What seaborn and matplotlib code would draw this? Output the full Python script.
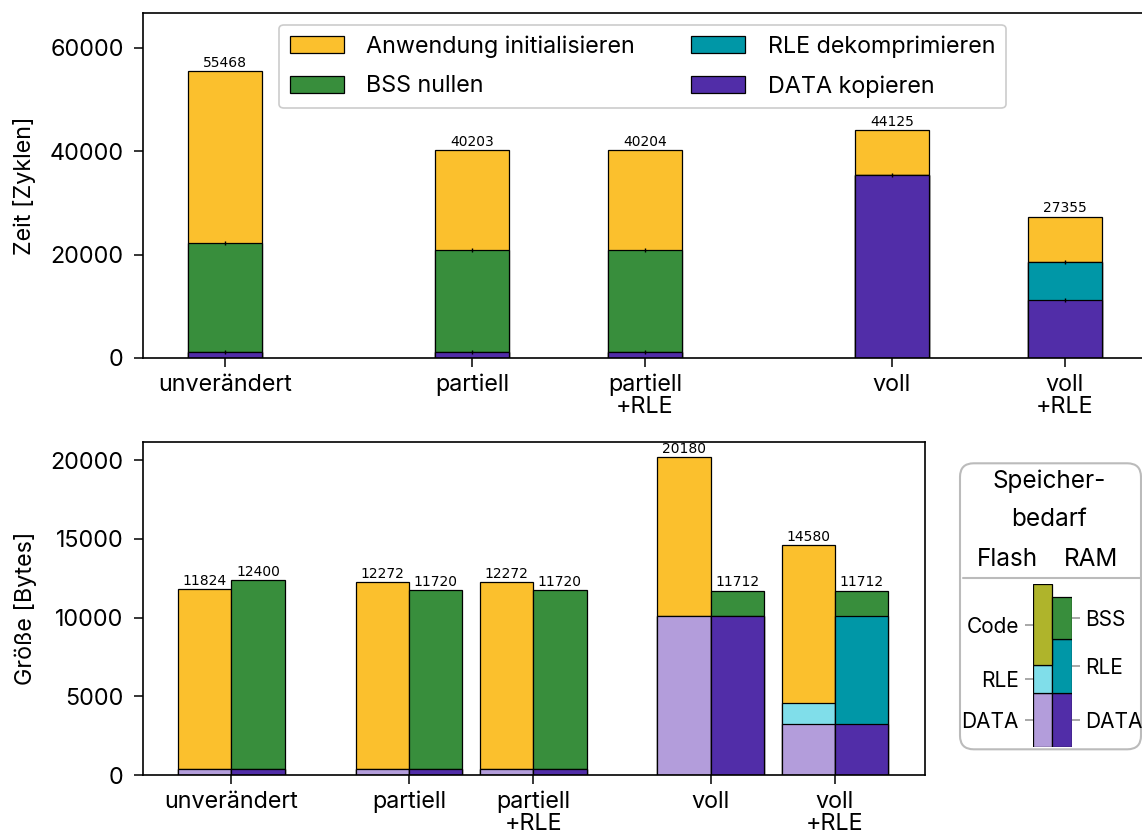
import matplotlib
matplotlib.use("Agg")
import numpy as np
import matplotlib.pyplot as plt
import seaborn as sns
from matplotlib.patches import Patch, FancyBboxPatch
from matplotlib.lines import Line2D

# ---------------- data ----------------
tick_labels = ["unverändert", "partiell", "partiell\n+RLE", "voll", "voll\n+RLE"]
positions = [0.0, 1.43, 2.43, 3.86, 4.86]

# Zeit [Zyklen] – segments from bottom to top
zeit_data = [1150, 1150, 1150, 35400, 11200]      # DATA kopieren
zeit_rle = [0, 0, 0, 0, 7430]                      # RLE dekomprimieren
zeit_bss = [21100, 19750, 19750, 0, 0]             # BSS nullen
zeit_init = [33218, 19303, 19304, 8725, 8725]      # Anwendung initialisieren
zeit_err_data = [350, 350, 350, 350, 350]
zeit_err_rle = [0, 0, 0, 0, 350]
zeit_err_bss = [350, 350, 350, 0, 0]

# Größe [Bytes] – Flash
flash_data = [380, 380, 380, 10120, 3260]
flash_rle = [0, 0, 0, 0, 1290]
flash_code = [11444, 11892, 11892, 10060, 10030]
# Größe [Bytes] – RAM
ram_data = [380, 380, 380, 10120, 3260]
ram_rle = [0, 0, 0, 0, 6860]
ram_bss = [12020, 11340, 11340, 1592, 1592]

legend_labels = ["Anwendung initialisieren", "BSS nullen", "RLE dekomprimieren", "DATA kopieren"]

# mini legend illustration (arbitrary units)
leg_flash = [54.3, 27.7, 81.3]       # DATA, RLE, Code
leg_flash_labels = ["DATA", "RLE", "Code"]
leg_ram = [54.3, 54.0, 41.7]         # DATA, RLE, BSS
leg_ram_labels = ["DATA", "RLE", "BSS"]

# ---------------- style ----------------
C_INIT = "#FBC02D"
C_BSS = "#388E3C"
C_RLE = "#0097A7"
C_DATA = "#512DA8"
C_DATA_FL = "#B39DDB"
C_RLE_FL = "#80DEEA"
C_CODE_LEG = "#AFB42B"

FS = 16.8
FS_MINI = 15
sns.set_theme(style="ticks", rc={
    "axes.edgecolor": "black", "axes.linewidth": 1.2,
    "text.color": "black", "axes.labelcolor": "black",
    "xtick.color": "black", "ytick.color": "black",
    "xtick.major.size": 6.5, "ytick.major.size": 6.5,
    "xtick.major.width": 1.1, "ytick.major.width": 1.1,
    "xtick.major.pad": 5, "ytick.major.pad": 7,
    "font.size": FS, "xtick.labelsize": FS, "ytick.labelsize": FS,
    "axes.labelsize": FS, "legend.fontsize": FS,
})
plt.rcParams["font.family"] = ["Inter", "DejaVu Sans"]

W, H = 1142, 839
fig = plt.figure(figsize=(W / 100, H / 100), dpi=100)


def fx(px):
    return px / W


def fy(py):
    return 1 - py / H


BW = 0.43


def stacked(ax, x, layers, colors):
    cum = np.cumsum(np.array(layers, dtype=float), axis=0)
    for i in range(len(layers) - 1, -1, -1):
        sns.barplot(x=list(x), y=list(cum[i]), native_scale=True, orient="x",
                    width=BW, color=colors[i], saturation=1, errorbar=None,
                    edgecolor="black", linewidth=0.9, ax=ax)
    return cum


def annotate(ax, x, tops):
    for xi, t in zip(x, tops):
        ax.annotate(f"{t:.0f}", (xi, t), xytext=(0, 0.8), textcoords="offset points",
                    ha="center", va="bottom", fontsize=10, family="DejaVu Sans")


# ---------------- top: Zeit ----------------
ax1 = fig.add_axes([fx(142.5), fy(358), 1 - fx(142.5), fy(12.7) - fy(358)])
cum1 = stacked(ax1, positions, [zeit_data, zeit_rle, zeit_bss, zeit_init],
               [C_DATA, C_RLE, C_BSS, C_INIT])
for lvl, err in zip(cum1[:3], [zeit_err_data, zeit_err_rle, zeit_err_bss]):
    e = np.array(err, dtype=float)
    m = e > 0
    ax1.errorbar(np.array(positions)[m], lvl[m], yerr=e[m], fmt="none",
                 ecolor="black", elinewidth=1.0, capsize=0)
annotate(ax1, positions, cum1[-1])
ax1.set_xlim(-0.4774, 5.307)
ax1.set_ylim(0, 66800)
ax1.set_yticks([0, 20000, 40000, 60000])
ax1.set_xticks(positions)
ax1.set_xticklabels(tick_labels, linespacing=1.0)
ax1.set_ylabel("Zeit [Zyklen]", labelpad=10)
ax1.spines["right"].set_visible(False)

handles = [Patch(facecolor=c, edgecolor="black", linewidth=0.9)
           for c in [C_INIT, C_BSS, C_RLE, C_DATA]]
leg = fig.legend(handles, legend_labels, ncol=2, loc="upper left",
                 bbox_to_anchor=(fx(279), fy(24.7)), bbox_transform=fig.transFigure,
                 borderaxespad=0, frameon=True, fancybox=True,
                 handlelength=2.32, handleheight=0.76, handletextpad=0.97,
                 labelspacing=0.76, columnspacing=2.4, borderpad=0.45)
leg.get_frame().set_edgecolor("#cccccc")
leg.get_frame().set_linewidth(1.2)
leg.get_frame().set_alpha(1)

# ---------------- bottom: Größe ----------------
ax2 = fig.add_axes([fx(142.5), fy(775), fx(925) - fx(142.5), fy(442) - fy(775)])
x_flash = [p - BW / 2 for p in positions]
x_ram = [p + BW / 2 for p in positions]
cum_f = stacked(ax2, x_flash, [flash_data, flash_rle, flash_code],
                [C_DATA_FL, C_RLE_FL, C_INIT])
cum_r = stacked(ax2, x_ram, [ram_data, ram_rle, ram_bss],
                [C_DATA, C_RLE, C_BSS])
annotate(ax2, x_flash, cum_f[-1])
annotate(ax2, x_ram, cum_r[-1])
ax2.set_xlim(-0.715, 5.585)
ax2.set_ylim(0, 21150)
ax2.set_yticks([0, 5000, 10000, 15000, 20000])
ax2.set_xticks(positions)
ax2.set_xticklabels(tick_labels, linespacing=1.0)
ax2.set_ylabel("Größe [Bytes]", labelpad=10)

# ---------------- mini legend "Speicherbedarf" ----------------
box = FancyBboxPatch((fx(960), fy(749.3)), fx(1141) - fx(960), fy(463.3) - fy(749.3),
                     boxstyle="round,pad=0,rounding_size=0.012", transform=fig.transFigure,
                     facecolor="white", edgecolor="#bbbbbb", linewidth=1.5,
                     mutation_aspect=W / H, zorder=-5)
fig.patches.append(box)
fig.text(fx(1049), fy(481.7), "Speicher-", ha="center", va="center", fontsize=17.5)
fig.text(fx(1049), fy(519), "bedarf", ha="center", va="center", fontsize=17.5)
fig.text(fx(1007), fy(560), "Flash", ha="center", va="center", fontsize=17.5)
fig.text(fx(1091), fy(560), "RAM", ha="center", va="center", fontsize=17.5)
fig.add_artist(Line2D([fx(963), fx(1140)], [fy(578.3), fy(578.3)],
                      transform=fig.transFigure, color="#bbbbbb", linewidth=1.5))

axl = fig.add_axes([fx(1032.7), fy(747.3), fx(1071.7) - fx(1032.7), fy(584) - fy(747.3)])
axl.set_zorder(5)
axl.patch.set_visible(False)
cf = np.cumsum(leg_flash)
cr = np.cumsum(leg_ram)
fl_cols = [C_DATA_FL, C_RLE_FL, C_CODE_LEG]
ram_cols = [C_DATA, C_RLE, C_BSS]
for i in range(3):
    b0 = cf[i] - leg_flash[i]
    axl.bar(0, leg_flash[i], bottom=b0, width=1.0, color=fl_cols[i],
            edgecolor="black", linewidth=0.9)
    b1 = cr[i] - leg_ram[i]
    axl.bar(1, leg_ram[i], bottom=b1, width=1.0, color=ram_cols[i],
            edgecolor="black", linewidth=0.9)
axl.set_xlim(-0.5, 1.5)
axl.set_ylim(0, cf[-1])
axl.set_xticks([])
axl.set_yticks(cf - np.array(leg_flash) / 2)
axl.set_yticklabels(leg_flash_labels)
axl.tick_params(axis="y", color="#999999", length=6, width=1.2, pad=4,
                labelsize=FS_MINI)
for s in axl.spines.values():
    s.set_visible(False)
axr = axl.twinx()
axr.set_zorder(6)
axr.patch.set_visible(False)
axr.set_ylim(0, cf[-1])
axr.set_yticks(cr - np.array(leg_ram) / 2)
axr.set_yticklabels(leg_ram_labels)
axr.tick_params(axis="y", color="#999999", length=6, width=1.2, pad=4,
                labelsize=FS_MINI)
for s in axr.spines.values():
    s.set_visible(False)

fig.savefig("out.png", dpi=100)
